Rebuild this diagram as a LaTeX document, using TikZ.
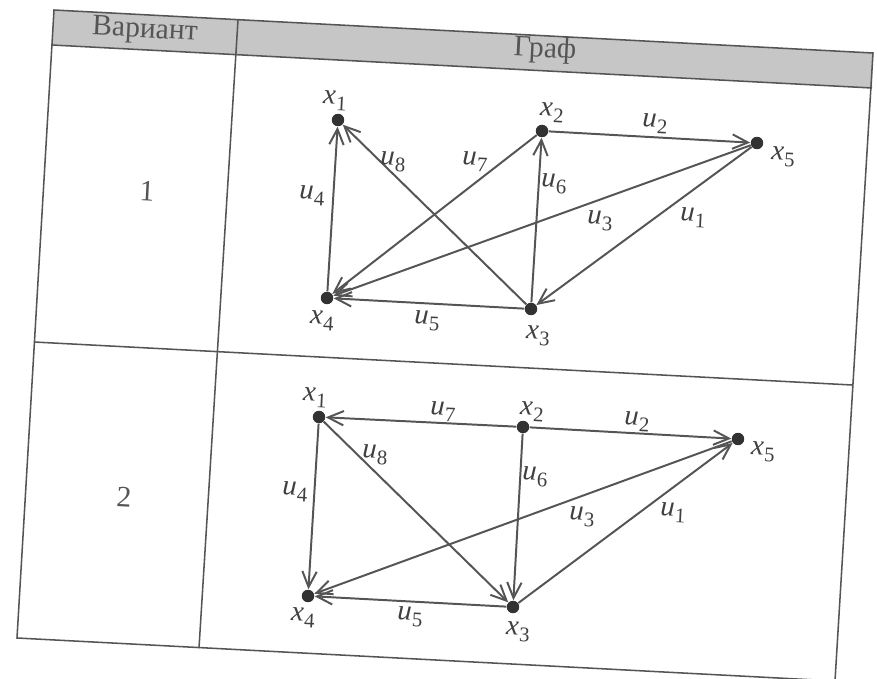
\documentclass[tikz,border=0pt]{standalone}
\usepackage{fontspec}
\setmainfont{Liberation Serif}
\usetikzlibrary{arrows.meta}
\definecolor{inkgray}{RGB}{85,85,85}
\definecolor{headgray}{RGB}{198,198,198}
\definecolor{dotgray}{RGB}{50,50,50}
\newcommand{\vx}[2]{\textit{#1}\kern0.02em\raisebox{-0.45ex}{\fontsize{9.5}{10}\selectfont#2}}

\begin{document}
\begin{tikzpicture}[x=0.016cm, y=-0.016cm,
        tableline/.style={draw=inkgray, line width=0.7pt},
        headtext/.style={text=inkgray, font=\fontsize{13.5}{15}\selectfont, rotate=-3},
        vertex/.style={circle, fill=dotgray, inner sep=0pt, minimum size=0.2cm},
        vlabel/.style={text=black!75, font=\fontsize{13}{15}\selectfont, rotate=-3, inner sep=0pt},
        arc/.style={draw=inkgray, line width=0.9pt, -{Straight Barb[length=2.5mm,width=2.3mm]}}
    ]
        \useasboundingbox (0,0) rectangle (877,679);

        % таблица
        \coordinate (tl) at (54,10);
        \coordinate (tr) at (873,53);
        \coordinate (hl) at (52,45);
        \coordinate (hr) at (872,88);
        \coordinate (ml) at (34,342);
        \coordinate (mr) at (852,385);
        \coordinate (bl) at (17,638);
        \coordinate (br) at (835,681);
        \coordinate (dt) at (238,20);
        \coordinate (db) at (199,648);

        \fill[headgray] (tl) -- (tr) -- (hr) -- (hl) -- cycle;
        \draw[tableline] (tl) -- (tr) -- (br) -- (bl) -- cycle;
        \draw[tableline] (hl) -- (hr);
        \draw[tableline] (ml) -- (mr);
        \draw[tableline] (dt) -- (db);

        \node[headtext] (hvar) at (145,31) {Вариант};
        \node[headtext] (hgraph) at (545,50) {Граф};
        \node[headtext] (var1) at (147,191) {1};
        \node[headtext] (var2) at (124,497) {2};

        % граф 1
        \node[vertex] (a1) at (338,120) {};
        \node[vertex] (a2) at (542,131) {};
        \node[vertex] (a3) at (531,309) {};
        \node[vertex] (a4) at (327,298) {};
        \node[vertex] (a5) at (757,143) {};

        \node[vlabel] (la1) at (335,101) {\vx{x}{1}};
        \node[vlabel] (la2) at (552,113) {\vx{x}{2}};
        \node[vlabel] (la3) at (538,336) {\vx{x}{3}};
        \node[vlabel] (la4) at (322,321) {\vx{x}{4}};
        \node[vlabel] (la5) at (783,157) {\vx{x}{5}};

        \draw[arc] (a5) -- (a3);
        \draw[arc] (a2) -- (a5);
        \draw[arc] (a5) -- (a4);
        \draw[arc] (a4) -- (a1);
        \draw[arc] (a3) -- (a4);
        \draw[arc] (a3) -- (a2);
        \draw[arc] (a2) -- (a4);
        \draw[arc] (a3) -- (a1);

        \node[vlabel] (ua1) at (693,218) {\vx{u}{1}};
        \node[vlabel] (ua2) at (655,124) {\vx{u}{2}};
        \node[vlabel] (ua3) at (600,221) {\vx{u}{3}};
        \node[vlabel] (ua4) at (312,196) {\vx{u}{4}};
        \node[vlabel] (ua5) at (427,321) {\vx{u}{5}};
        \node[vlabel] (ua6) at (554,184) {\vx{u}{6}};
        \node[vlabel] (ua7) at (475,162) {\vx{u}{7}};
        \node[vlabel] (ua8) at (393,162) {\vx{u}{8}};

        % граф 2
        \node[vertex] (b1) at (319,417) {};
        \node[vertex] (b2) at (523,427) {};
        \node[vertex] (b3) at (513,607) {};
        \node[vertex] (b4) at (308,596) {};
        \node[vertex] (b5) at (738,439) {};

        \node[vlabel] (lb1) at (315,398) {\vx{x}{1}};
        \node[vlabel] (lb2) at (532,412) {\vx{x}{2}};
        \node[vlabel] (lb3) at (518,632) {\vx{x}{3}};
        \node[vlabel] (lb4) at (303,618) {\vx{x}{4}};
        \node[vlabel] (lb5) at (763,452) {\vx{x}{5}};

        \draw[arc] (b3) -- (b5);
        \draw[arc] (b2) -- (b5);
        \draw[arc] (b5) -- (b4);
        \draw[arc] (b1) -- (b4);
        \draw[arc] (b3) -- (b4);
        \draw[arc] (b2) -- (b3);
        \draw[arc] (b2) -- (b1);
        \draw[arc] (b1) -- (b3);

        \node[vlabel] (ub1) at (673,513) {\vx{u}{1}};
        \node[vlabel] (ub2) at (637,422) {\vx{u}{2}};
        \node[vlabel] (ub3) at (582,517) {\vx{u}{3}};
        \node[vlabel] (ub4) at (295,492) {\vx{u}{4}};
        \node[vlabel] (ub5) at (410,617) {\vx{u}{5}};
        \node[vlabel] (ub6) at (535,477) {\vx{u}{6}};
        \node[vlabel] (ub7) at (443,412) {\vx{u}{7}};
        \node[vlabel] (ub8) at (375,455) {\vx{u}{8}};
    \end{tikzpicture}
\end{document}
